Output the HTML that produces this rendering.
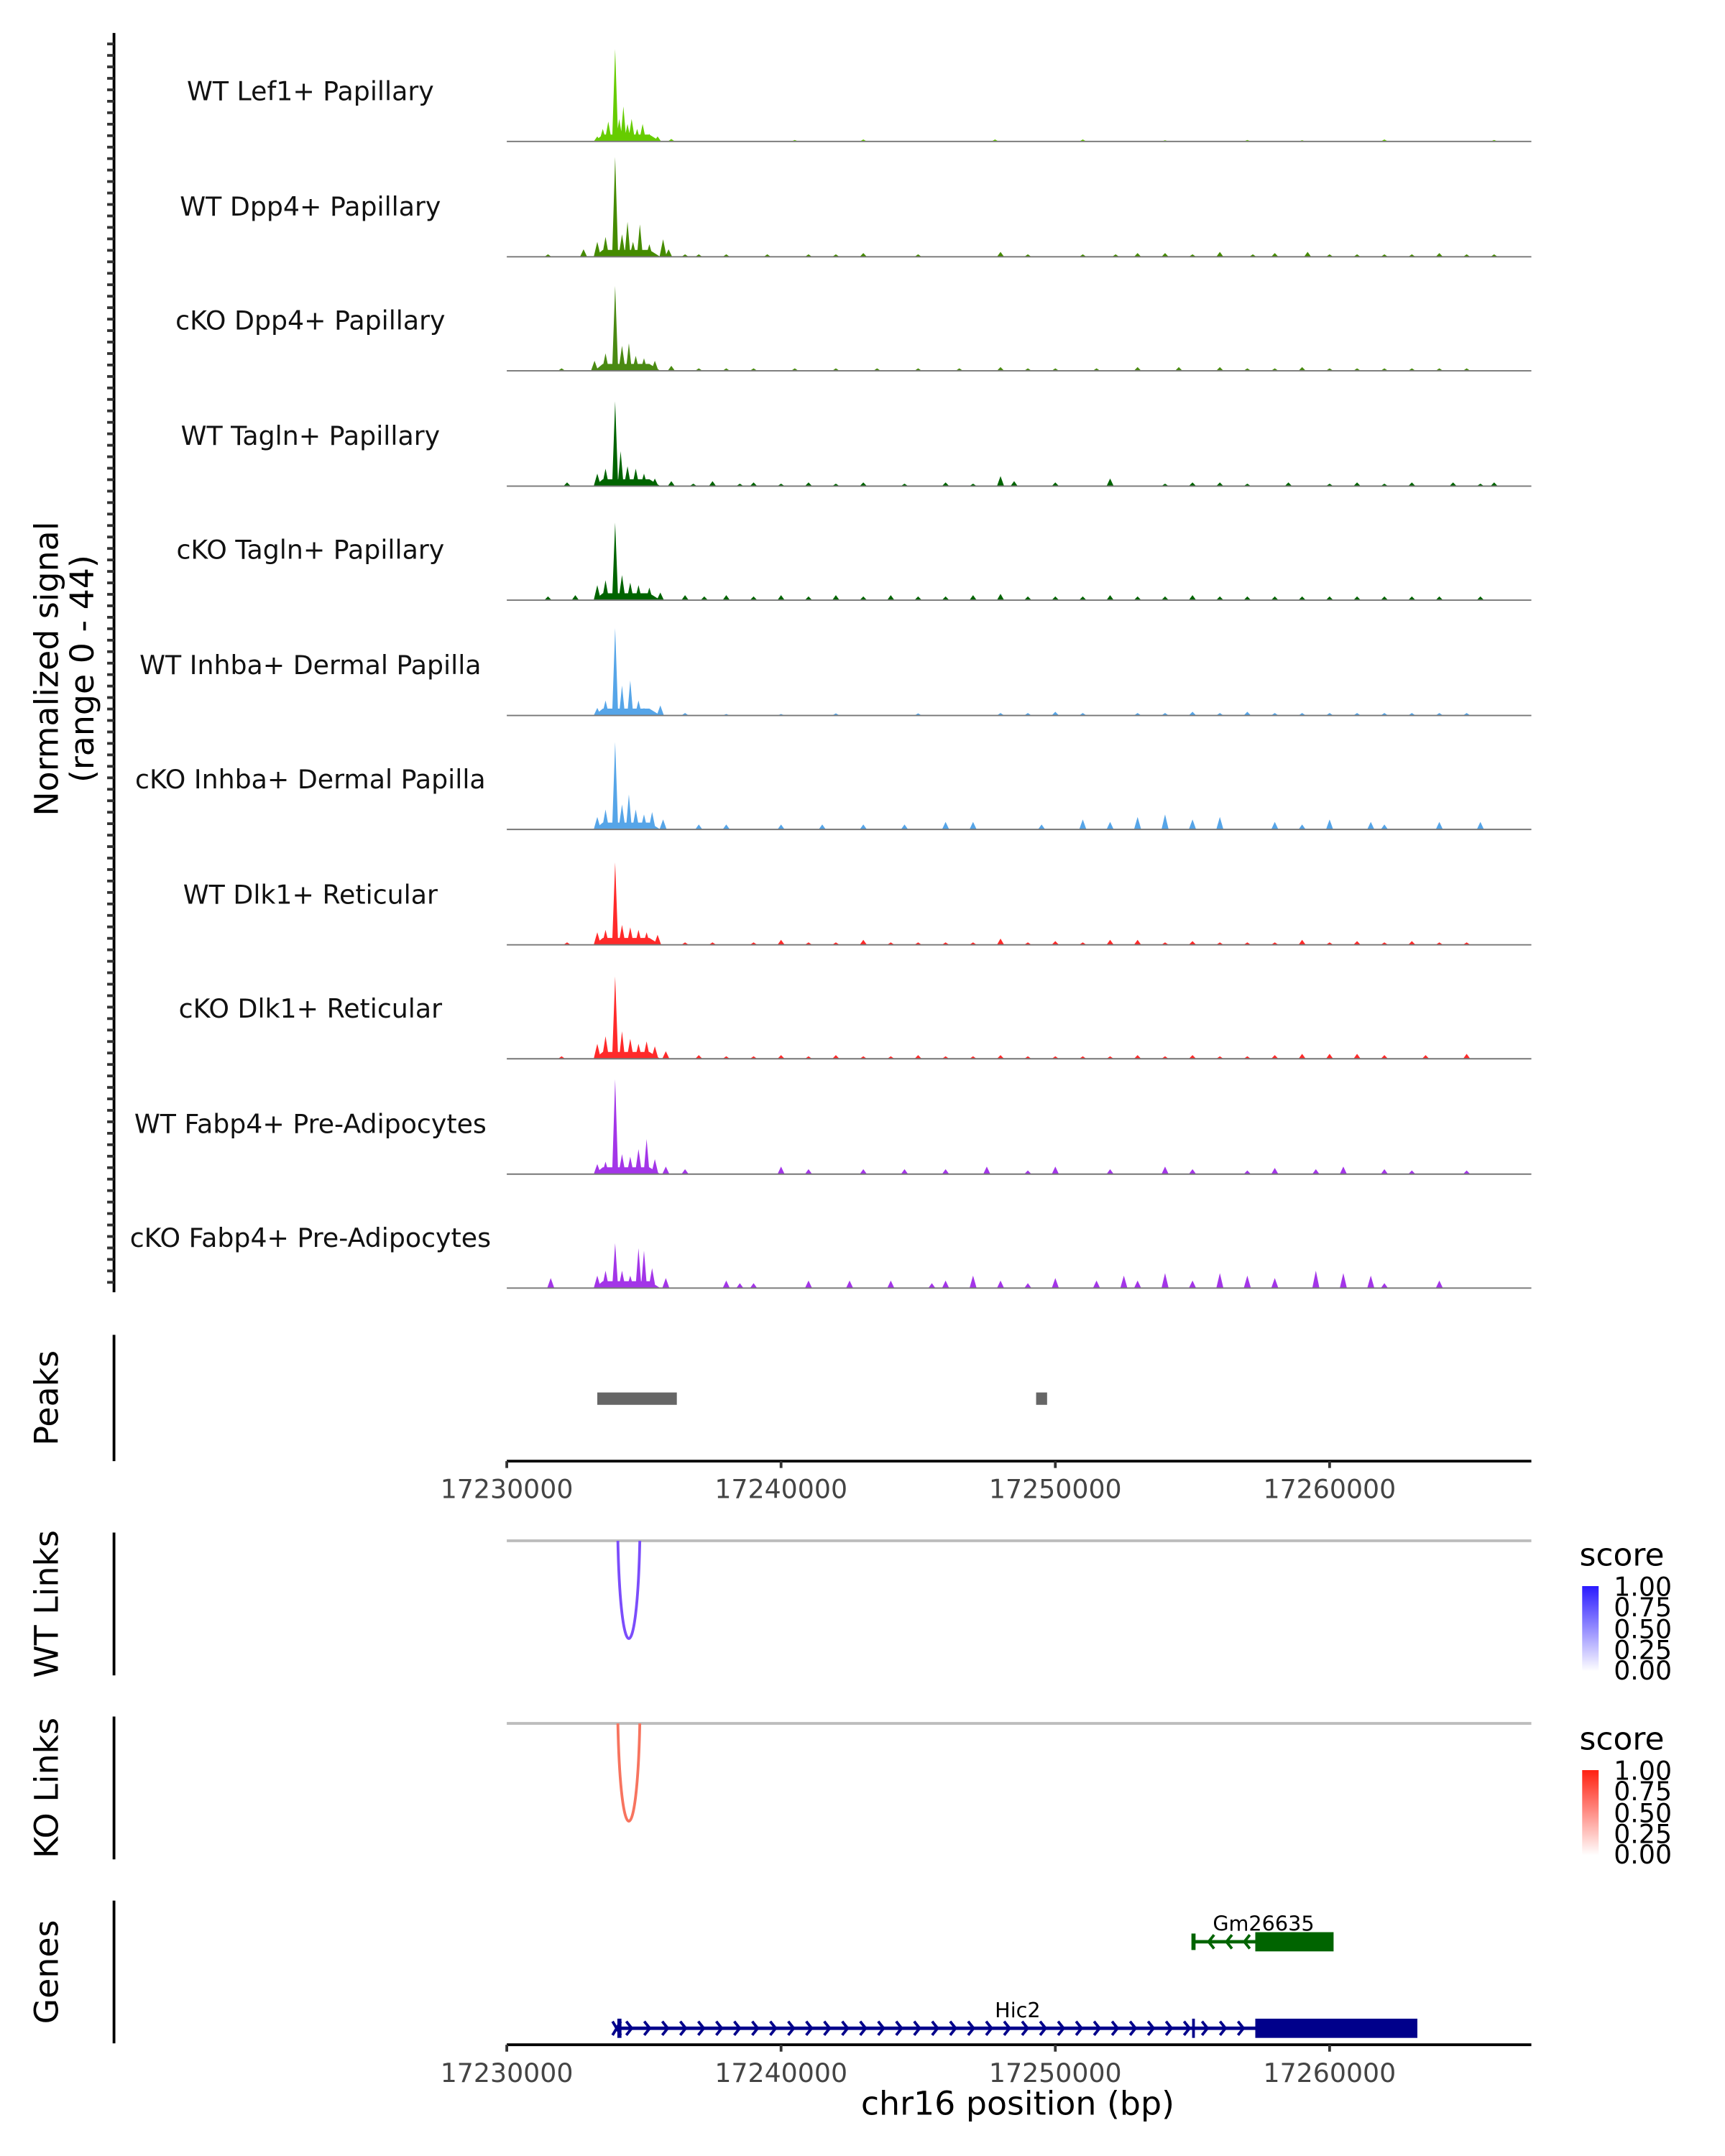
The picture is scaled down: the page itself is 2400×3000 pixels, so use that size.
<!DOCTYPE html>
<html><head><meta charset="utf-8">
<style>
html,body{margin:0;padding:0;background:#fff;}
svg{display:block;font-family:"DejaVu Sans","Liberation Sans",sans-serif;}
</style></head>
<body>
<svg id="chart" width="2400" height="3000" viewBox="0 0 1256 1570" preserveAspectRatio="none" xmlns="http://www.w3.org/2000/svg">
<defs>
<linearGradient id="gblue" x1="0" y1="1" x2="0" y2="0"><stop offset="0" stop-color="#ffffff"/><stop offset="1" stop-color="#2a1aff"/></linearGradient>
<linearGradient id="gred" x1="0" y1="1" x2="0" y2="0"><stop offset="0" stop-color="#ffffff"/><stop offset="1" stop-color="#ff2010"/></linearGradient>
</defs>
<g id="tracks"></g>
<g id="left-axis"></g>
<text transform="translate(42,487) rotate(-90)" text-anchor="middle" font-size="24" fill="#000">Normalized signal</text>
<text transform="translate(68,487) rotate(-90)" text-anchor="middle" font-size="24" fill="#000">(range 0 - 44)</text>

<line x1="83" y1="972" x2="83" y2="1064" stroke="#000" stroke-width="2"/>
<text transform="translate(42,1018) rotate(-90)" text-anchor="middle" font-size="24">Peaks</text>
<g id="peaks"></g>
<g id="xaxis1"></g>

<line x1="83" y1="1116" x2="83" y2="1220" stroke="#000" stroke-width="2"/>
<text transform="translate(42,1168) rotate(-90)" text-anchor="middle" font-size="24">WT Links</text>
<line x1="369" y1="1122" x2="1115" y2="1122" stroke="#bdbdbd" stroke-width="2"/>
<g id="wtlinks"></g>
<text x="1150" y="1140" font-size="23">score</text>
<rect x="1152" y="1155" width="12" height="62" fill="url(#gblue)"/>
<g font-size="19">
<text x="1175" y="1162">1.00</text><text x="1175" y="1177">0.75</text><text x="1175" y="1193">0.50</text><text x="1175" y="1208">0.25</text><text x="1175" y="1223">0.00</text></g>

<line x1="83" y1="1250" x2="83" y2="1354" stroke="#000" stroke-width="2"/>
<text transform="translate(42,1302) rotate(-90)" text-anchor="middle" font-size="24">KO Links</text>
<line x1="369" y1="1255" x2="1115" y2="1255" stroke="#bdbdbd" stroke-width="2"/>
<g id="kolinks"></g>
<text x="1150" y="1274" font-size="23">score</text>
<rect x="1152" y="1289" width="12" height="62" fill="url(#gred)"/>
<g font-size="19">
<text x="1175" y="1296">1.00</text><text x="1175" y="1311">0.75</text><text x="1175" y="1327">0.50</text><text x="1175" y="1342">0.25</text><text x="1175" y="1357">0.00</text></g>

<line x1="83" y1="1384" x2="83" y2="1488" stroke="#000" stroke-width="2"/>
<text transform="translate(42,1436) rotate(-90)" text-anchor="middle" font-size="24">Genes</text>
<g id="genes"></g>
<g id="xaxis2"></g>
<text x="741" y="1540" text-anchor="middle" font-size="24">chr16 position (bp)</text>
</svg>
<script>
const NS="http://www.w3.org/2000/svg";
const START=17230000;
const xTicks=[17230000,17240000,17250000,17260000];
const trackNames=["WT Lef1+ Papillary","WT Dpp4+ Papillary","cKO Dpp4+ Papillary","WT Tagln+ Papillary","cKO Tagln+ Papillary","WT Inhba+ Dermal Papilla","cKO Inhba+ Dermal Papilla","WT Dlk1+ Reticular","cKO Dlk1+ Reticular","WT Fabp4+ Pre-Adipocytes","cKO Fabp4+ Pre-Adipocytes"];
const trackColors=["#66cc00","#458b00","#4a8a12","#006400","#006400","#56a5e8","#56a5e8","#ff2a2a","#ff2a2a","#a335e8","#a335e8"];
const sigLef1=[[3.3,2],[3.5,5],[3.7,8],[3.95,37],[4.1,9],[4.25,14],[4.4,7],[4.55,9],[4.75,5],[4.95,7],[5.2,3],[5.5,2],[6.0,1],[10.5,0.6],[13,0.8],[21,0.8],[27,0.6],[32,0.8],[36,0.6],[24,0.5],[17.8,0.8],[29,0.5]];
const sigDpp4=[[1.5,1],[2.8,3],[3.3,6],[3.6,8],[3.95,40],[4.2,9],[4.4,14],[4.6,6],[4.85,13],[5.2,5],[5.7,7],[5.9,3],[6.5,1],[7,1],[8,1],[9.5,1],[11,1],[12,1],[13,1.5],[15,1],[18,2],[19,1],[21,1],[22.2,1],[23,1.5],[24,1.5],[25,1],[26,2],[27.2,1],[28,1.5],[29.2,2],[30,1],[31,1],[32,1],[33,1],[34,1.5],[35,1],[36,1]];
const sigCDpp4=[[2,1],[3.2,4],[3.6,7],[3.95,34],[4.2,10],[4.45,11],[4.7,6],[5,5],[5.4,4],[6,2],[7,1],[8,1],[9,1],[10.5,1],[12,1],[13.5,1],[15,1],[16.5,1],[18,1.5],[19,1],[20,1],[21.5,1],[23,1.5],[24.5,1.5],[26,1.5],[27,1],[28,1],[29,1.5],[30,1],[31,1],[32,1],[33,1],[34,1],[35,1]];
const sigTagln=[[2.2,1.5],[3.3,5],[3.6,7],[3.95,34],[4.15,14],[4.4,8],[4.7,7],[5,5],[5.4,3],[6,2],[6.8,1],[7.5,2],[8.5,1],[9,1.5],[10,1],[11,1.5],[12,1],[13,1.5],[14.5,1],[16,1.5],[17,1],[18,4],[18.5,2],[20,1.5],[22,3],[24,1],[25,1.5],[26,1.5],[27,1],[28.5,1.5],[30,1],[31,1.5],[32,1],[33,1.5],[34.5,1.5],[35.5,1],[36,1.5]];
const sigCTagln=[[1.5,1.5],[2.5,2],[3.3,6],[3.6,8],[3.95,31],[4.2,10],[4.5,7],[4.8,6],[5.2,5],[5.6,3],[6.5,2],[7.2,1.5],[8,2],[9,1.5],[10,2],[11,1.5],[12,2],[13,1.5],[14,2],[15,1.5],[16,1.5],[17,2],[18,2.5],[19,1.5],[20,1.5],[21,1.5],[22,2],[23,1.5],[24,1.5],[25,2],[26,1.5],[27,1.5],[28,1.5],[29,1.5],[30,1.5],[31,1.5],[32,1.5],[33,1.5],[34,1.5],[35.5,1.5]];
const sigInhba=[[3.3,3],[3.6,6],[3.95,35],[4.2,12],[4.5,14],[4.8,6],[5,3],[5.6,4],[6.5,1],[8,0.6],[10,0.6],[12,0.8],[15,0.8],[18,1],[19,1],[20,1.5],[21,1],[23,1],[24,1],[25,1.5],[26,1],[27,1.5],[28,1],[29,1],[30,1],[31,1],[32,1],[33,1],[34,1],[35,1]];
const sigCInhba=[[3.3,5],[3.6,8],[3.95,35],[4.2,10],[4.45,14],[4.7,8],[5,6],[5.3,7],[5.7,4],[7,2],[8,2],[10,2],[11.5,2],[13,2],[14.5,2],[16,3],[17,3],[19.5,2],[21,4],[22,3],[23,5],[24,6],[25,4],[26,5],[28,3],[29,2],[30,4],[31.5,3],[32,2],[34,3],[35.5,3]];
const sigDlk1=[[2.2,1],[3.3,5],[3.6,6],[3.95,33],[4.2,8],[4.5,7],[4.8,6],[5.1,5],[5.5,4],[6.5,1],[7.5,1],[9,1],[10,2],[11,1],[12,1],[13,2],[14,1],[15,1],[16,1],[17,1],[18,2.5],[19,1],[20,1.5],[21,1],[22,2],[23,2],[24,1],[25,1.5],[26,1],[27,1],[28,1],[29,2],[30,1],[31,1.5],[32,1],[33,1.5],[34,1],[35,1]];
const sigCDlk1=[[2,1],[3.3,6],[3.6,9],[3.95,33],[4.2,11],[4.5,8],[4.8,6],[5.1,7],[5.4,5],[5.8,3],[7,1.5],[8,1],[9,1],[10,1.5],[11,1],[12,1.5],[13,1],[14,1],[15,1.5],[16,1],[17,1],[18,1.5],[19,1],[20,1],[21,1],[22,1],[23,1.5],[24,1],[25,1.5],[26,1],[27,1],[28,1.5],[29,2],[30,2],[31,2],[32,1.5],[33.5,1.5],[35,2]];
const sigFabp4=[[3.3,4],[3.6,5],[3.95,38],[4.2,8],[4.5,7],[4.8,10],[5.1,14],[5.4,6],[5.8,3],[6.5,2],[10,3],[11,2],[13,2],[14.5,2],[16,2],[17.5,3],[19,1.5],[20,3],[22,2],[24,3],[25,2],[27,1.5],[28,2.5],[29.5,2],[30.5,3],[32,2],[33,1.5],[35,1.5]];
const sigCFabp4=[[1.6,4],[3.3,5],[3.6,7],[3.95,18],[4.2,7],[4.5,5],[4.8,16],[5.0,15],[5.3,8],[5.8,4],[8,3],[8.5,2],[9,2],[11,3],[12.5,3],[14,3],[15.5,2],[16,3],[17,5],[18,3],[19,2],[20,4],[21.5,3],[22.5,5],[23,3],[24,6],[25,3],[26,6],[27,5],[28,4],[29.5,7],[30.5,6],[31.5,5],[32,2],[34,3]];
const trackSignals=[sigLef1,sigDpp4,sigCDpp4,sigTagln,sigCTagln,sigInhba,sigCInhba,sigDlk1,sigCDlk1,sigFabp4,sigCFabp4];
const peakRegions=[[17233300,17236200],[17249300,17249700]];
const wtLinks=[[17234100,17234800,1]];
const koLinks=[[17234100,17234800,1]];

const X0=369,X1=1115,PX_PER_BP=199.7/10000;
function xs(bp){return X0+(bp-START)*PX_PER_BP;}
const baselines=[103,187,270,354,437,521,604,688,771,855,938];
function ys(v,base){return base-v*(80/44);}
function el(tag,attrs,parent){const e=document.createElementNS(NS,tag);for(const k in attrs)e.setAttribute(k,attrs[k]);parent.appendChild(e);return e;}

const tracks=document.getElementById('tracks');
trackNames.forEach((name,i)=>{
  const g=el('g',{},tracks);
  
  
  const base=baselines[i];
  const t=el('text',{x:226,y:base-30,'text-anchor':'middle','font-size':19,fill:'#111'},g);
  t.textContent=name;
  
  
  let d='';
  trackSignals[i].forEach(p=>{
    const x=xs(START+p[0]*1000);const w=p[1]>10?2.2:2.6;
    d+=`M${(x-w).toFixed(1)},${base}L${x.toFixed(1)},${ys(p[1],base).toFixed(1)}L${(x+w).toFixed(1)},${base}Z`;
  });
  const c0=xs(START+3200),c1=xs(START+5600);
  d+=`M${c0},${base}L${c0+6},${base-5}L${c1-8},${base-5}L${c1},${base}Z`;
  const path=el('path',{d:d,fill:trackColors[i]},g);
  
  
  const bl=el('line',{x1:X0,y1:base,x2:X1,y2:base,stroke:'#777','stroke-width':1},g);
  
  
});

const la=document.getElementById('left-axis');
el('line',{x1:83,y1:24,x2:83,y2:941,stroke:'#000','stroke-width':2},la);
for(let y=32;y<=940;y+=8.35){el('line',{x1:78,y1:y,x2:83,y2:y,stroke:'#333','stroke-width':2},la);}

const pk=document.getElementById('peaks');
peakRegions.forEach(r=>{
  const re=el('rect',{x:xs(r[0]),y:1014,width:Math.max(6,xs(r[1])-xs(r[0])),height:9,fill:'#666'},pk);
  
  
});

function xaxis(gid,y){
  const g=document.getElementById(gid);
  el('line',{x1:X0,y1:y,x2:X1,y2:y,stroke:'#000','stroke-width':2},g);
  xTicks.forEach(v=>{
    const x=xs(v);
    el('line',{x1:x,y1:y,x2:x,y2:y+5,stroke:'#333','stroke-width':2},g);
    const t=el('text',{x:x,y:y+27,'text-anchor':'middle','font-size':19,fill:'#444'},g);
    t.textContent=String(v);
    
    
  });
}
xaxis('xaxis1',1064);
xaxis('xaxis2',1489);

function links(gid,data,top,depth,color){
  const g=document.getElementById(gid);
  data.forEach(l=>{
    const a=xs(l[0]),b=xs(l[1]);
    const p=el('path',{d:`M${a-1},${top}C${a+1},${top+depth*1.3} ${b-1},${top+depth*1.3} ${b+1},${top}`,fill:'none',stroke:color,'stroke-width':2},g);
    
    
  });
}
links('wtlinks',wtLinks,1122,73,'#7b4dfb');
links('kolinks',koLinks,1255,73,'#f7745f');

const gg=document.getElementById('genes');
(function(){
  const g=el('g',{},gg);
  
  
  const c='#006400';
  el('line',{x1:869,y1:1414,x2:914,y2:1414,stroke:c,'stroke-width':2.5},g);
  el('line',{x1:869,y1:1408,x2:869,y2:1420,stroke:c,'stroke-width':3},g);
  [880,893,906].forEach(x=>el('path',{d:`M${x+4},${1409}L${x},${1414}L${x+4},${1419}`,fill:'none',stroke:c,'stroke-width':2},g));
  el('rect',{x:914,y:1407,width:57,height:14,fill:c},g);
  const t=el('text',{x:920,y:1406,'text-anchor':'middle','font-size':15},g);t.textContent='Gm26635';
})();
(function(){
  const g=el('g',{},gg);
  
  
  const c='#00008b';
  el('line',{x1:448,y1:1477,x2:914,y2:1477,stroke:c,'stroke-width':2.5},g);
  el('line',{x1:451,y1:1470,x2:451,y2:1484,stroke:c,'stroke-width':3},g);
  el('line',{x1:869,y1:1470,x2:869,y2:1484,stroke:c,'stroke-width':2},g);
  el('path',{d:'M446,1472L452,1482M452,1472L446,1482',stroke:c,'stroke-width':2},g);
  for(let x=460;x<912;x+=13.1){el('path',{d:`M${x-4},${1472}L${x},${1477}L${x-4},${1482}`,fill:'none',stroke:c,'stroke-width':2},g);}
  el('rect',{x:914,y:1470,width:118,height:14,fill:c},g);
  const t=el('text',{x:741,y:1469,'text-anchor':'middle','font-size':15},g);t.textContent='Hic2';
})();
</script>
</body></html>
